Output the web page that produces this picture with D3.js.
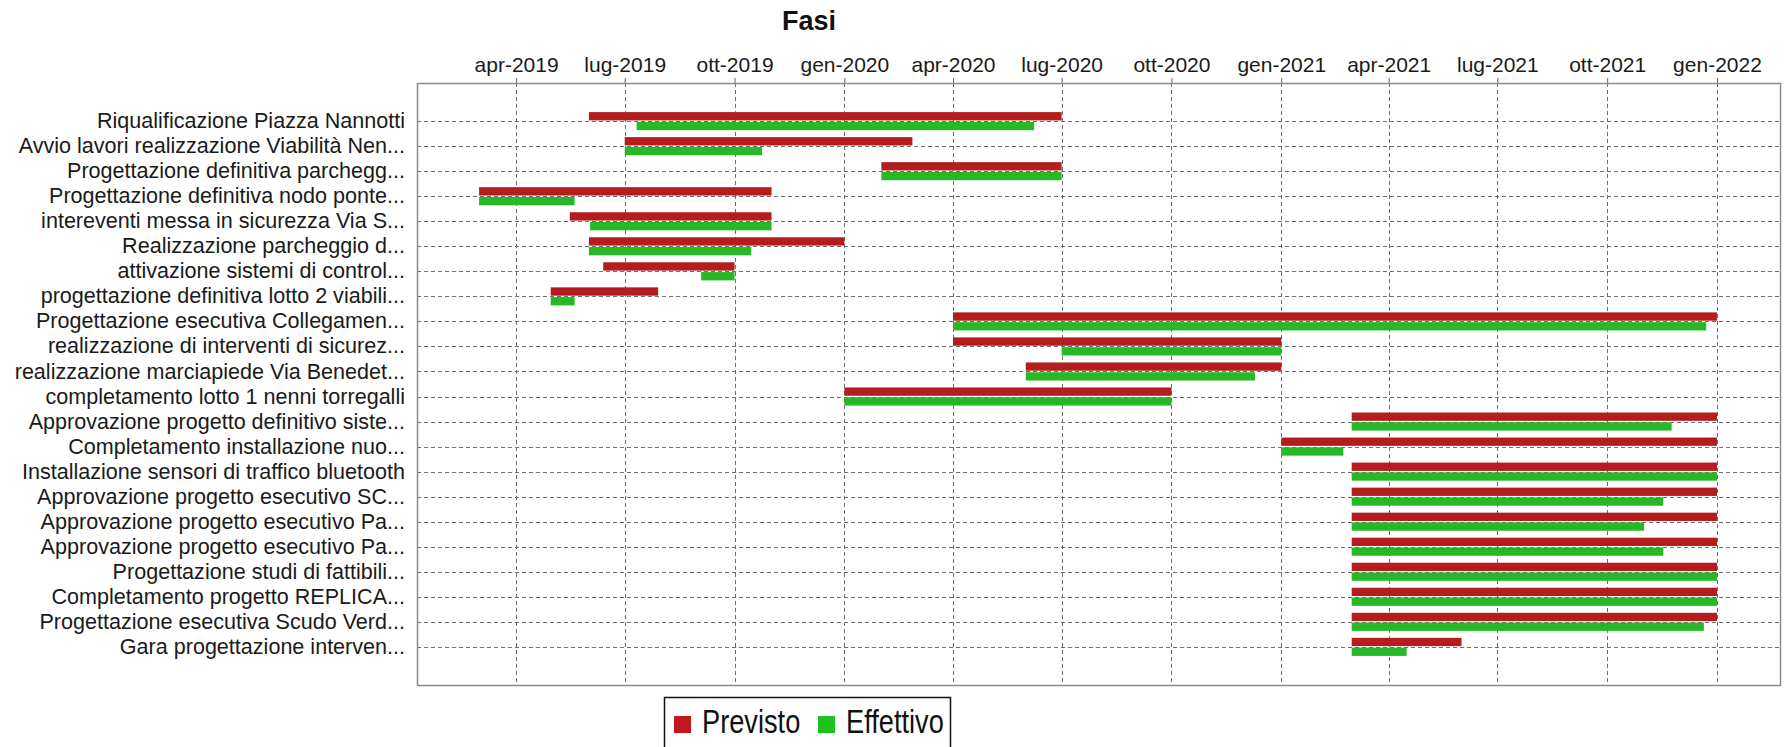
<!DOCTYPE html>
<html>
<head>
<meta charset="utf-8">
<script src="https://cdn.jsdelivr.net/npm/d3@7"></script>
<style>
  html, body { margin: 0; padding: 0; background: #fff; }
  svg { display: block; }
</style>
</head>
<body>
<svg id="chart" width="1789" height="747"></svg>
<script>
const categories = [
  "Riqualificazione Piazza Nannotti",
  "Avvio lavori realizzazione Viabilità Nen...",
  "Progettazione definitiva parchegg...",
  "Progettazione definitiva nodo ponte...",
  "intereventi messa in sicurezza Via S...",
  "Realizzazione parcheggio d...",
  "attivazione sistemi di control...",
  "progettazione definitiva lotto 2 viabili...",
  "Progettazione esecutiva Collegamen...",
  "realizzazione di interventi di sicurez...",
  "realizzazione marciapiede Via Benedet...",
  "completamento lotto 1 nenni torregalli",
  "Approvazione progetto definitivo siste...",
  "Completamento installazione nuo...",
  "Installazione sensori di traffico bluetooth",
  "Approvazione progetto esecutivo SC...",
  "Approvazione progetto esecutivo Pa...",
  "Approvazione progetto esecutivo Pa...",
  "Progettazione studi di fattibili...",
  "Completamento progetto REPLICA...",
  "Progettazione esecutiva Scudo Verd...",
  "Gara progettazione interven..."
];

const previstoStart = ["2019-06-01","2019-07-01","2020-02-01","2019-03-01","2019-05-16","2019-06-01","2019-06-13","2019-04-30","2020-04-01","2020-04-01","2020-06-01","2020-01-01","2021-03-01","2021-01-01","2021-03-01","2021-03-01","2021-03-01","2021-03-01","2021-03-01","2021-03-01","2021-03-01","2021-03-01"];
const previstoEnd   = ["2020-07-01","2020-02-27","2020-07-01","2019-11-01","2019-11-01","2020-01-01","2019-10-01","2019-07-29","2022-01-01","2021-01-01","2021-01-01","2020-10-01","2022-01-01","2022-01-01","2022-01-01","2022-01-01","2022-01-01","2022-01-01","2022-01-01","2022-01-01","2022-01-01","2021-06-01"];
const effettivoStart = ["2019-07-11","2019-07-01","2020-02-01","2019-03-01","2019-06-02","2019-06-01","2019-09-03","2019-04-30","2020-04-01","2020-07-01","2020-06-01","2020-01-01","2021-03-01","2021-01-01","2021-03-01","2021-03-01","2021-03-01","2021-03-01","2021-03-01","2021-03-01","2021-03-01","2021-03-01"];
const effettivoEnd   = ["2020-06-08","2019-10-24","2020-07-01","2019-05-20","2019-11-01","2019-10-15","2019-10-01","2019-05-20","2021-12-23","2021-01-01","2020-12-10","2020-10-01","2021-11-24","2021-02-22","2022-01-01","2021-11-17","2021-11-01","2021-11-17","2022-01-01","2022-01-01","2021-12-21","2021-04-16"];

const seriesNames = ["Previsto", "Effettivo"];
const seriesColors = ["#b41c1e", "#27b827"];
const legendColors = ["#c4161e", "#1ec21e"];
const monthLabels = ["gen","feb","mar","apr","mag","giu","lug","ago","set","ott","nov","dic"];
const chartTitle = "Fasi";
const axisStart = "2019-01-08";
const axisEnd = "2022-02-22T19:00";

const parse = s => new Date(s.length > 10 ? s : s + "T00:00");

const plot = { left: 417, right: 1780, top: 83, bottom: 685 };
const FONT = "'Liberation Sans', Arial, sans-serif";

const svg = d3.select("#chart");

// squeeze text horizontally to mimic a narrow face
function squeeze(sel, factor) {
  sel.each(function () {
    const w = this.getComputedTextLength();
    d3.select(this)
      .attr("textLength", (w * factor).toFixed(1))
      .attr("lengthAdjust", "spacingAndGlyphs");
  });
}

// scales
const x = d3.scaleTime()
  .domain([parse(axisStart), parse(axisEnd)])
  .range([plot.left, plot.right]);

const idx = d3.range(categories.length);
const y = d3.scaleBand()
  .domain(idx)
  .range([plot.top, plot.bottom])
  .paddingInner(0.2)
  .paddingOuter(1.123);

const ySub = d3.scaleBand()
  .domain(seriesNames)
  .range([0, y.bandwidth()])
  .paddingInner(0.15)
  .paddingOuter(0.1);

// plot background
svg.append("rect")
  .attr("x", plot.left).attr("y", plot.top)
  .attr("width", plot.right - plot.left).attr("height", plot.bottom - plot.top)
  .attr("fill", "#ffffff");

// title
svg.append("text")
  .attr("x", 809).attr("y", 30)
  .attr("text-anchor", "middle")
  .attr("font-family", FONT)
  .attr("font-weight", "bold")
  .attr("font-size", 27)
  .attr("fill", "#111")
  .text(chartTitle);

const ticks = x.ticks(d3.timeMonth.every(3));

// vertical gridlines
svg.append("g").selectAll("line").data(ticks).join("line")
  .attr("x1", d => Math.round(x(d)) + 0.5).attr("x2", d => Math.round(x(d)) + 0.5)
  .attr("y1", plot.top).attr("y2", plot.bottom)
  .attr("stroke", "#6e6e6e").attr("stroke-width", 1)
  .attr("stroke-dasharray", "4,3");

// horizontal gridlines at category centres
svg.append("g").selectAll("line").data(idx).join("line")
  .attr("x1", plot.left).attr("x2", plot.right)
  .attr("y1", d => Math.round(y(d) + y.bandwidth() / 2) + 0.5)
  .attr("y2", d => Math.round(y(d) + y.bandwidth() / 2) + 0.5)
  .attr("stroke", "#6e6e6e").attr("stroke-width", 1)
  .attr("stroke-dasharray", "4,3");

// bars
const bars = [];
idx.forEach(i => {
  bars.push({ i, s: 0, start: parse(previstoStart[i]), end: parse(previstoEnd[i]) });
  bars.push({ i, s: 1, start: parse(effettivoStart[i]), end: parse(effettivoEnd[i]) });
});
svg.append("g").selectAll("rect").data(bars).join("rect")
  .attr("x", d => x(d.start))
  .attr("width", d => Math.max(1, x(d.end) - x(d.start)))
  .attr("y", d => y(d.i) + ySub(seriesNames[d.s]))
  .attr("height", ySub.bandwidth())
  .attr("fill", d => seriesColors[d.s]);

// plot border
svg.append("rect")
  .attr("x", plot.left + 0.5).attr("y", plot.top + 0.5)
  .attr("width", plot.right - plot.left).attr("height", plot.bottom - plot.top)
  .attr("fill", "none").attr("stroke", "#8c8c8c").attr("stroke-width", 1.5);

// top time axis
const xAxis = d3.axisTop(x)
  .tickValues(ticks)
  .tickSize(5)
  .tickPadding(6)
  .tickFormat(d => monthLabels[d.getMonth()] + "-" + d.getFullYear());
const gx = svg.append("g").attr("transform", `translate(0,${plot.top})`).call(xAxis);
gx.select(".domain").remove();
gx.selectAll(".tick line").attr("stroke", "#666");
gx.selectAll(".tick text")
  .attr("font-family", FONT)
  .attr("font-size", 21)
  .attr("fill", "#1a1a1a");

// left category axis (labels only)
const yAxis = d3.axisLeft(y)
  .tickSize(0)
  .tickPadding(12)
  .tickFormat(i => categories[i]);
const gy = svg.append("g").attr("transform", `translate(${plot.left},0)`).call(yAxis);
gy.select(".domain").remove();
gy.selectAll(".tick text")
  .attr("font-family", FONT)
  .attr("font-size", 22)
  .attr("fill", "#1a1a1a")
  .call(squeeze, 0.98);

// legend
const lg = svg.append("g");
lg.append("rect")
  .attr("x", 664.5).attr("y", 697.5)
  .attr("width", 286).attr("height", 70)
  .attr("fill", "#fff").attr("stroke", "#111").attr("stroke-width", 1.5);
const legendX = [674, 818];
seriesNames.forEach((name, k) => {
  lg.append("rect")
    .attr("x", legendX[k]).attr("y", 716)
    .attr("width", 17).attr("height", 17)
    .attr("fill", legendColors[k]);
  lg.append("text")
    .attr("x", legendX[k] + 28).attr("y", 733)
    .attr("font-family", FONT)
    .attr("font-size", 34)
    .attr("fill", "#111")
    .text(name)
    .call(squeeze, 0.8);
});
</script>
</body>
</html>
